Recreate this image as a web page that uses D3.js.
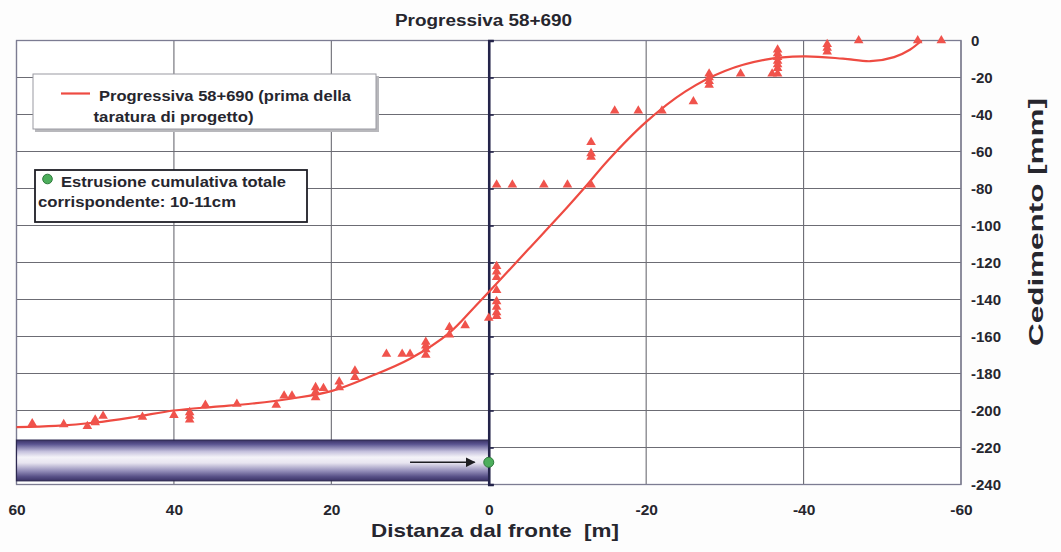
<!DOCTYPE html>
<html>
<head>
<meta charset="utf-8">
<script src="https://cdn.jsdelivr.net/npm/d3@7/dist/d3.min.js"></script>
<style>
  html, body { margin: 0; padding: 0; background: #fdfdfd; }
  svg { display: block; font-family: "Liberation Sans", Arial, sans-serif; font-weight: bold; }
</style>
</head>
<body>
<svg id="chart" width="1061" height="552"></svg>
<script>
// Distance from the tunnel face [m] (positive = behind the face)
const xTicks = [60, 40, 20, 0, -20, -40, -60];
// Settlement [mm]
const yTicks = [0, -20, -40, -60, -80, -100, -120, -140, -160, -180, -200, -220, -240];

// Interpretive settlement curve (Progressiva 58+690)
const curveDist = [60, 55, 50, 45, 40, 35, 30, 25, 20, 15, 10, 5, 2, 0, -5, -10, -12.5, -15, -20, -25, -30, -35, -40, -45, -48.5, -51.5, -53.5, -55];
const curveSettl = [-209, -208.3, -206.5, -203.5, -200, -198, -196.2, -193.5, -189.5, -181.5, -172, -158, -145, -136, -113, -90, -78, -65.5, -44, -27.5, -16.5, -10.5, -8.6, -9.8, -11.2, -9, -5, 0];

// Measured settlements (triangles)
const measDist = [
  58, 54, 51, 50, 50, 49, 44, 40, 38, 38, 38, 36, 32, 27, 26, 25,
  22, 22, 22, 21, 19, 19, 17, 17, 13, 11, 10, 8, 8, 8, 8, 5, 5, 3, 0,
  -1, -1, -1, -1, -1, -1, -1, -1,
  -1, -3, -7, -10, -13, -13, -13, -13,
  -16, -19, -22, -26, -28, -28, -28, -28, -32, -36,
  -36.7, -36.7, -36.7, -36.7, -36.7, -36.7, -36.7,
  -43, -43, -43, -47, -54.5, -57.5
];
const measSettl = [
  -207, -207.5, -208.5, -205, -206.5, -203, -203.5, -202.5, -201, -203, -205, -197, -196.5, -197, -192, -192,
  -187.5, -190, -193, -188, -184.5, -187.5, -178.5, -182, -169.5, -169.5, -169.5, -163, -165, -167, -170, -155, -159, -154, -150,
  -122, -125, -128, -135, -141, -144, -147, -149,
  -78, -78, -78, -78, -78, -55, -61, -63,
  -38, -38, -38, -33, -18, -20, -22, -24, -18, -18,
  -5, -7, -9, -11, -13, -15, -18,
  -2, -4, -6, 0, 0, 0
];

// Cumulative extrusion at the face and the advancing shield
const extrusionPoint = [0, -228];
const arrowDist = [10, 1.8];
const shieldDist = [60, 0];
const shieldSettl = [-216, -238];

const svg = d3.select("#chart");
const x = d3.scaleLinear().domain([60, -60]).range([16.5, 961]);
const y = d3.scaleLinear().domain([0, -240]).range([40.5, 484.5]);

const ink = "#26262e";
const red = "#ee4b42";

// stretch a text to a target width
function fitWidth(sel, w) {
  sel.attr("textLength", w).attr("lengthAdjust", "spacingAndGlyphs");
}

const defs = svg.append("defs");
const grad = defs.append("linearGradient").attr("id", "shield").attr("x1", 0).attr("y1", 0).attr("x2", 0).attr("y2", 1);
[[0, "#3a3266"], [0.1, "#5a5490"], [0.28, "#c4c0dc"], [0.42, "#f4f3f8"], [0.56, "#e8e5f0"], [0.76, "#928cb8"], [0.9, "#564f86"], [1, "#3a3266"]]
  .forEach(([o, c]) => grad.append("stop").attr("offset", o).attr("stop-color", c));
defs.append("marker").attr("id", "head").attr("viewBox", "0 0 10 10").attr("refX", 9).attr("refY", 5)
  .attr("markerWidth", 7).attr("markerHeight", 7).attr("orient", "auto")
  .append("path").attr("d", "M0,0L10,5L0,10z").attr("fill", "#1e1e22");

// plot area
svg.append("rect").attr("x", x(60)).attr("y", y(0)).attr("width", x(-60) - x(60)).attr("height", y(-240) - y(0))
  .attr("fill", "#ffffff");

const grid = svg.append("g").attr("stroke", "#6c6c74").attr("stroke-width", 1.1);
grid.selectAll("line.h").data(yTicks).join("line").attr("class", "h")
  .attr("x1", x(60)).attr("x2", x(-60)).attr("y1", d => y(d)).attr("y2", d => y(d));
grid.selectAll("line.v").data(xTicks.filter(d => d !== 0)).join("line").attr("class", "v")
  .attr("y1", y(0)).attr("y2", y(-240)).attr("x1", d => x(d)).attr("x2", d => x(d));
svg.append("rect").attr("x", x(60)).attr("y", y(0)).attr("width", x(-60) - x(60)).attr("height", y(-240) - y(0))
  .attr("fill", "none").attr("stroke", "#7c7c92").attr("stroke-width", 1.3);

// shield bar
svg.append("rect")
  .attr("x", x(shieldDist[0])).attr("width", x(shieldDist[1]) - x(shieldDist[0]))
  .attr("y", y(shieldSettl[0])).attr("height", y(shieldSettl[1]) - y(shieldSettl[0]))
  .attr("fill", "url(#shield)").attr("stroke", "#2c2850").attr("stroke-width", 1.2);

// value axis at the face
svg.append("g").attr("transform", `translate(${x(0)},0)`)
  .call(d3.axisRight(y).tickValues(yTicks).tickSize(5).tickFormat(""))
  .call(g => g.select(".domain").attr("stroke", "#24244a").attr("stroke-width", 2.6))
  .call(g => g.selectAll(".tick line").attr("stroke", "#24244a").attr("stroke-width", 1.6));

// tick labels
svg.append("g").attr("transform", `translate(${x(-60)},0)`)
  .call(d3.axisRight(y).tickValues(yTicks).tickSize(0).tickPadding(10).tickFormat(d => String(d)))
  .call(g => g.select(".domain").remove())
  .call(g => g.selectAll("text").attr("fill", ink).attr("font-size", 15).attr("font-weight", "bold")
    .attr("font-family", "'Liberation Sans', Arial, sans-serif"));
svg.append("g").attr("transform", `translate(0,${y(-240)})`)
  .call(d3.axisBottom(x).tickValues(xTicks).tickSize(0).tickPadding(19).tickFormat(d => String(d)))
  .call(g => g.select(".domain").remove())
  .call(g => g.selectAll("text").attr("fill", ink).attr("font-size", 15.5).attr("font-weight", "bold")
    .attr("font-family", "'Liberation Sans', Arial, sans-serif"));

// settlement curve
const line = d3.line().x(d => x(d[0])).y(d => y(d[1])).curve(d3.curveCatmullRom.alpha(0.5));
svg.append("path").datum(d3.zip(curveDist, curveSettl)).attr("d", line)
  .attr("fill", "none").attr("stroke", red).attr("stroke-width", 2.2);

// measured points
const tri = d3.symbol().type(d3.symbolTriangle).size(40);
svg.append("g").selectAll("path").data(d3.zip(measDist, measSettl)).join("path")
  .attr("d", tri).attr("transform", d => `translate(${x(d[0])},${y(d[1])})`)
  .attr("fill", "#f0534c");

// extrusion arrow and point
svg.append("line").attr("x1", x(arrowDist[0])).attr("x2", x(arrowDist[1]))
  .attr("y1", y(extrusionPoint[1])).attr("y2", y(extrusionPoint[1]))
  .attr("stroke", "#1e1e22").attr("stroke-width", 1.4).attr("marker-end", "url(#head)");
svg.append("circle").attr("cx", x(extrusionPoint[0])).attr("cy", y(extrusionPoint[1])).attr("r", 5)
  .attr("fill", "#4dae5c").attr("stroke", "#2e7a3c").attr("stroke-width", 1);

// title
svg.append("text").attr("x", 483.5).attr("y", 26).attr("text-anchor", "middle")
  .attr("font-size", 16).attr("fill", ink).text("Progressiva 58+690").call(fitWidth, 177);

// legend: curve
svg.append("rect").attr("x", 35).attr("y", 76).attr("width", 344).attr("height", 56).attr("fill", "#b8b8bc");
svg.append("rect").attr("x", 33).attr("y", 74).attr("width", 343).attr("height", 55)
  .attr("fill", "#ffffff").attr("stroke", "#9a9aa2").attr("stroke-width", 1);
svg.append("line").attr("x1", 61).attr("x2", 90).attr("y1", 93.5).attr("y2", 93.5).attr("stroke", red).attr("stroke-width", 2.2);
svg.append("text").attr("x", 99).attr("y", 101).attr("font-size", 15).attr("fill", ink)
  .text("Progressiva 58+690 (prima della").call(fitWidth, 252);
svg.append("text").attr("x", 93.5).attr("y", 121.5).attr("font-size", 15).attr("fill", ink)
  .text("taratura di progetto)").call(fitWidth, 160);

// legend: extrusion
svg.append("rect").attr("x", 35).attr("y", 170).attr("width", 272).attr("height", 52)
  .attr("fill", "#ffffff").attr("stroke", "#1e1e26").attr("stroke-width", 1.8);
svg.append("circle").attr("cx", 47.5).attr("cy", 179).attr("r", 4.8).attr("fill", "#4dae5c").attr("stroke", "#2e7a3c");
svg.append("text").attr("x", 61).attr("y", 186.5).attr("font-size", 15).attr("fill", ink)
  .text("Estrusione cumulativa totale").call(fitWidth, 225);
svg.append("text").attr("x", 38).attr("y", 207).attr("font-size", 15).attr("fill", ink)
  .text("corrispondente: 10-11cm").call(fitWidth, 198);

// axis titles
svg.append("text").attr("x", 371).attr("y", 537).attr("font-size", 19).attr("fill", ink)
  .text("Distanza dal fronte\u00a0 [m]").call(fitWidth, 248);
svg.append("text").attr("transform", "translate(1043,222) rotate(-90)").attr("text-anchor", "middle")
  .attr("font-size", 20).attr("fill", ink).text("Cedimento [mm]").call(fitWidth, 248);
</script>
</body>
</html>
